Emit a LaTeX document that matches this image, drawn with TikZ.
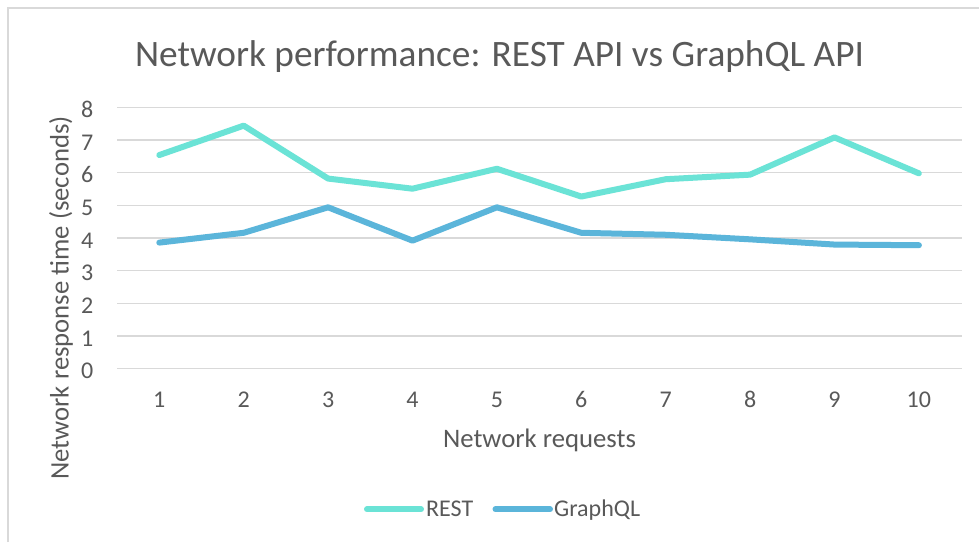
\documentclass[tikz,border=0pt]{standalone}
\usepackage{fontspec}
\setmainfont{Carlito}
\definecolor{restc}{HTML}{6BE3D6}
\definecolor{gqlc}{HTML}{5BB5DA}
\definecolor{gridc}{HTML}{D9D9D9}
\definecolor{txtc}{HTML}{595959}
\tikzset{
  gridline/.style={draw=gridc, line width=1.4pt},
  serieslinebase/.style={line width=6pt, line cap=round, line join=round},
  restline/.style={serieslinebase, draw=restc},
  gqlline/.style={serieslinebase, draw=gqlc},
  ticklbl/.style={text=txtc, inner sep=0pt, font=\fontsize{24}{28}\selectfont},
  axistitle/.style={text=txtc, inner sep=0pt, font=\fontsize{26.7}{31}\selectfont},
  titlelbl/.style={text=txtc, inner sep=0pt, font=\fontsize{37.3}{42}\selectfont},
  legendlbl/.style={text=txtc, inner sep=0pt, font=\fontsize{24}{28}\selectfont},
  frameline/.style={draw=gridc, line width=1.2pt}
}
\begin{document}
\begin{tikzpicture}[x=1pt,y=-1pt]
\useasboundingbox[fill=white] (0,0) rectangle (979,542);
% chart frame
\coordinate (fbl) at (8,542);
\coordinate (ftl) at (8,8);
\coordinate (ftr) at (979,8);
\draw[frameline] (fbl) -- (ftl) -- (ftr);
% title
\node[titlelbl, anchor=base] (title) at (499.5,66) {Network performance: REST API vs GraphQL API};
% gridlines and y tick labels
\foreach \v in {0,...,8} {
  \pgfmathsetmacro{\yy}{368.7-32.67*\v}
  \coordinate (gl\v) at (117,\yy);
  \coordinate (gr\v) at (962,\yy);
  \draw[gridline] (gl\v) -- (gr\v);
  \node[ticklbl, anchor=base east] (yt\v) at (93.5,\yy+10) {\v};
}
% x tick labels
\foreach \i in {1,...,10} {
  \pgfmathsetmacro{\xx}{159.3+84.4*(\i-1)}
  \node[ticklbl, anchor=base] (xt\i) at (\xx,407.5) {\i};
}
% axis titles
\node[axistitle, anchor=base] (xtitle) at (539.5,447) {Network requests};
\node[axistitle, anchor=base, rotate=90] (ytitle) at (68.5,298) {Network response time (seconds)};
% data
\foreach \i/\r/\g in {1/6.54/3.86, 2/7.44/4.16, 3/5.82/4.94, 4/5.51/3.92, 5/6.12/4.94, 6/5.27/4.16, 7/5.80/4.10, 8/5.94/3.96, 9/7.08/3.80, 10/5.98/3.78} {
  \pgfmathsetmacro{\xx}{159.3+84.4*(\i-1)}
  \coordinate (r\i) at (\xx,{368.7-32.67*\r});
  \coordinate (q\i) at (\xx,{368.7-32.67*\g});
}
\draw[restline] (r1) -- (r2) -- (r3) -- (r4) -- (r5) -- (r6) -- (r7) -- (r8) -- (r9) -- (r10);
\draw[gqlline] (q1) -- (q2) -- (q3) -- (q4) -- (q5) -- (q6) -- (q7) -- (q8) -- (q9) -- (q10);
% legend
\coordinate (lra) at (367,509.3);
\coordinate (lrb) at (421,509.3);
\coordinate (lqa) at (495.5,509.3);
\coordinate (lqb) at (550,509.3);
\draw[restline] (lra) -- (lrb);
\draw[gqlline] (lqa) -- (lqb);
\node[legendlbl, anchor=base west] (lrest) at (426,516.5) {REST};
\node[legendlbl, anchor=base west] (lgql) at (554,516.5) {GraphQL};
\end{tikzpicture}
\end{document}
